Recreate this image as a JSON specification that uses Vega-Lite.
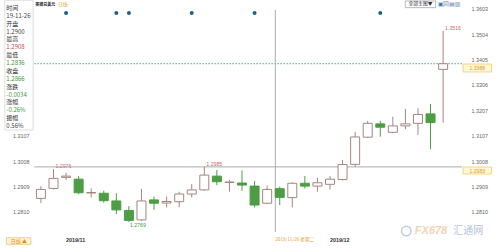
{
  "$schema": "https://vega.github.io/schema/vega-lite/v6.json",
  "width": 467,
  "height": 232,
  "autosize": {"type": "none"},
  "padding": {"left": 0, "top": 0, "right": 33, "bottom": 16},
  "background": "#ffffff",
  "config": {"view": {"stroke": null}},
  "datasets": {
    "candles": [
      {"i": 0, "d": "2019-10-30", "o": 1.2862, "h": 1.2910, "l": 1.2844, "c": 1.2897},
      {"i": 1, "d": "2019-10-31", "o": 1.2901, "h": 1.2976, "l": 1.2897, "c": 1.2940},
      {"i": 2, "d": "2019-11-01", "o": 1.2944, "h": 1.2962, "l": 1.2934, "c": 1.2949},
      {"i": 3, "d": "2019-11-04", "o": 1.2937, "h": 1.2949, "l": 1.2878, "c": 1.2884},
      {"i": 4, "d": "2019-11-05", "o": 1.2883, "h": 1.2901, "l": 1.2865, "c": 1.2885},
      {"i": 5, "d": "2019-11-06", "o": 1.2882, "h": 1.2892, "l": 1.2845, "c": 1.2853},
      {"i": 6, "d": "2019-11-07", "o": 1.2852, "h": 1.2882, "l": 1.2801, "c": 1.2817},
      {"i": 7, "d": "2019-11-08", "o": 1.2815, "h": 1.2832, "l": 1.2769, "c": 1.2776},
      {"i": 8, "d": "2019-11-11", "o": 1.2778, "h": 1.2899, "l": 1.2774, "c": 1.2852},
      {"i": 9, "d": "2019-11-12", "o": 1.2856, "h": 1.2869, "l": 1.2817, "c": 1.2843},
      {"i": 10, "d": "2019-11-13", "o": 1.2844, "h": 1.2869, "l": 1.2827, "c": 1.2850},
      {"i": 11, "d": "2019-11-14", "o": 1.2849, "h": 1.2888, "l": 1.2827, "c": 1.2879},
      {"i": 12, "d": "2019-11-15", "o": 1.2879, "h": 1.2918, "l": 1.2866, "c": 1.2895},
      {"i": 13, "d": "2019-11-18", "o": 1.2895, "h": 1.2985, "l": 1.2892, "c": 1.2953},
      {"i": 14, "d": "2019-11-19", "o": 1.2949, "h": 1.2973, "l": 1.2914, "c": 1.2927},
      {"i": 15, "d": "2019-11-20", "o": 1.2924, "h": 1.2934, "l": 1.2888, "c": 1.2926},
      {"i": 16, "d": "2019-11-21", "o": 1.2922, "h": 1.2971, "l": 1.2891, "c": 1.2914},
      {"i": 17, "d": "2019-11-22", "o": 1.2910, "h": 1.2930, "l": 1.2827, "c": 1.2836},
      {"i": 18, "d": "2019-11-25", "o": 1.2843, "h": 1.2912, "l": 1.2840, "c": 1.2897},
      {"i": 19, "d": "2019-11-26", "o": 1.2900, "h": 1.2908, "l": 1.2836, "c": 1.2866},
      {"i": 20, "d": "2019-11-27", "o": 1.2865, "h": 1.2925, "l": 1.2827, "c": 1.2921},
      {"i": 21, "d": "2019-11-28", "o": 1.2921, "h": 1.2949, "l": 1.2901, "c": 1.2910},
      {"i": 22, "d": "2019-11-29", "o": 1.2910, "h": 1.2943, "l": 1.2888, "c": 1.2923},
      {"i": 23, "d": "2019-12-02", "o": 1.2917, "h": 1.2949, "l": 1.2897, "c": 1.2937},
      {"i": 24, "d": "2019-12-03", "o": 1.2936, "h": 1.3012, "l": 1.2932, "c": 1.2994},
      {"i": 25, "d": "2019-12-04", "o": 1.2995, "h": 1.3121, "l": 1.2985, "c": 1.3102},
      {"i": 26, "d": "2019-12-05", "o": 1.3101, "h": 1.3165, "l": 1.3098, "c": 1.3155},
      {"i": 27, "d": "2019-12-06", "o": 1.3153, "h": 1.3165, "l": 1.3103, "c": 1.3140},
      {"i": 28, "d": "2019-12-09", "o": 1.3120, "h": 1.3181, "l": 1.3116, "c": 1.3145},
      {"i": 29, "d": "2019-12-10", "o": 1.3145, "h": 1.3211, "l": 1.3132, "c": 1.3153},
      {"i": 30, "d": "2019-12-11", "o": 1.3155, "h": 1.3214, "l": 1.3110, "c": 1.3190},
      {"i": 31, "d": "2019-12-12", "o": 1.3192, "h": 1.3231, "l": 1.3054, "c": 1.3158},
      {"i": 32, "d": "2019-12-13", "o": 1.3366, "h": 1.3516, "l": 1.3158, "c": 1.3388}
    ],
    "months": [
      {"i": 2, "t": "2019/11"},
      {"i": 23, "t": "2019/12"}
    ],
    "info": [
      {"row": 0, "t": "时间", "k": "l"},
      {"row": 1, "t": "19-11-26", "k": "n"},
      {"row": 2, "t": "开盘", "k": "l"},
      {"row": 3, "t": "1.2900", "k": "n"},
      {"row": 4, "t": "最高", "k": "l"},
      {"row": 5, "t": "1.2908", "k": "u"},
      {"row": 6, "t": "最低", "k": "l"},
      {"row": 7, "t": "1.2836", "k": "d"},
      {"row": 8, "t": "收盘", "k": "l"},
      {"row": 9, "t": "1.2866", "k": "d"},
      {"row": 10, "t": "涨跌", "k": "l"},
      {"row": 11, "t": "-0.0034", "k": "d"},
      {"row": 12, "t": "涨幅", "k": "l"},
      {"row": 13, "t": "-0.26%", "k": "d"},
      {"row": 14, "t": "振幅", "k": "l"},
      {"row": 15, "t": "0.56%", "k": "n"}
    ],
    "events": [{"i": 2}, {"i": 6}, {"i": 7}, {"i": 12}, {"i": 17}, {"i": 27}],
    "highs": [
      {"i": 1, "v": 1.2976, "t": "1.2976"},
      {"i": 13, "v": 1.2985, "t": "1.2985"},
      {"i": 32, "v": 1.3516, "t": "1.3516"}
    ],
    "lows": [{"i": 7, "v": 1.2769, "t": "1.2769"}]
  },
  "layer": [
    {
      "layer": [
        {
          "data": {"values": [{}]},
          "mark": {"type": "rect", "fill": "#ffffff", "stroke": "#d6d6d6", "strokeWidth": 0.8},
          "encoding": {
            "x": {"datum": -2.87, "type": "quantitative", "scale": {"domain": [-2.858, 33.503], "nice": false, "zero": false}, "axis": null},
            "x2": {"datum": -0.62},
            "y": {"datum": 1.3636, "type": "quantitative", "scale": {"domain": [1.27307, 1.36369], "nice": false, "zero": false}, "axis": null},
            "y2": {"datum": 1.3129}
          }
        },
        {
          "data": {"values": [{}]},
          "mark": {"type": "rule", "stroke": "#3fa59e", "strokeWidth": 1, "strokeDash": [1.5, 1.5]},
          "encoding": {
            "x": {"datum": -0.52, "type": "quantitative", "axis": null},
            "x2": {"datum": 33.503},
            "y": {"datum": 1.3388, "type": "quantitative", "axis": null}
          }
        },
        {
          "data": {"values": [{}]},
          "mark": {"type": "rule", "stroke": "#a3a3a3", "strokeWidth": 0.9},
          "encoding": {
            "x": {"datum": -0.52, "type": "quantitative", "axis": null},
            "x2": {"datum": 33.503},
            "y": {"datum": 1.2985, "type": "quantitative", "axis": null}
          }
        },
        {
          "data": {"values": [{}]},
          "mark": {"type": "rule", "stroke": "#a3a3a3", "strokeWidth": 0.9},
          "encoding": {
            "x": {"datum": 18.65, "type": "quantitative", "axis": null},
            "y": {"datum": 1.3598, "type": "quantitative", "axis": null},
            "y2": {"datum": 1.27307}
          }
        },
        {
          "data": {"name": "candles"},
          "mark": {"type": "rule", "strokeWidth": 1},
          "encoding": {
            "x": {"field": "i", "type": "quantitative", "axis": null},
            "y": {
              "field": "l", "type": "quantitative",
              "axis": {
                "orient": "right", "title": null, "values": [1.281, 1.2909, 1.3008, 1.3107, 1.3207, 1.3306, 1.3405, 1.3504, 1.3603],
                "format": ".4f", "ticks": false, "tickSize": 0, "domain": false, "grid": false,
                "labelPadding": 4, "labelFontSize": 5.4, "labelFont": "Liberation Sans", "labelColor": "#666666", "labelOverlap": false
              }
            },
            "y2": {"field": "h"},
            "stroke": {"condition": {"test": "datum.c >= datum.o", "value": "#a4857f"}, "value": "#4c9d44"}
          }
        },
        {
          "data": {"name": "candles"},
          "mark": {"type": "bar", "size": 9, "strokeWidth": 1},
          "encoding": {
            "x": {"field": "i", "type": "quantitative", "axis": null},
            "y": {
              "field": "o", "type": "quantitative",
              "axis": {
                "orient": "left", "title": null, "values": [1.281, 1.2909, 1.3008, 1.3107], "offset": -30,
                "format": ".4f", "ticks": false, "tickSize": 0, "domain": false, "grid": false,
                "labelPadding": 1, "labelFontSize": 5.4, "labelFont": "Liberation Sans", "labelColor": "#666666", "labelOverlap": false
              }
            },
            "y2": {"field": "c"},
            "fill": {"condition": {"test": "datum.c >= datum.o", "value": "#ffffff"}, "value": "#4c9d44"},
            "stroke": {"condition": {"test": "datum.c >= datum.o", "value": "#a4857f"}, "value": "#4c9d44"}
          }
        },
        {
          "data": {"name": "months"},
          "mark": {"type": "text", "align": "left", "baseline": "middle", "fontSize": 5.4, "fontWeight": "bold", "font": "Liberation Sans", "fill": "#333333"},
          "encoding": {
            "x": {"field": "i", "type": "quantitative", "axis": null},
            "y": {"datum": 1.26994, "type": "quantitative", "axis": null},
            "text": {"field": "t"}
          }
        },
        {
          "data": {"name": "highs"},
          "mark": {"type": "text", "align": "left", "baseline": "bottom", "dx": 2, "dy": 0, "fontSize": 5.2, "font": "Liberation Sans", "fill": "#c0706a"},
          "encoding": {
            "x": {"field": "i", "type": "quantitative", "axis": null},
            "y": {"field": "v", "type": "quantitative", "axis": null},
            "text": {"field": "t"}
          }
        },
        {
          "data": {"name": "lows"},
          "mark": {"type": "text", "align": "left", "baseline": "top", "dx": 1, "dy": 1, "fontSize": 5.2, "font": "Liberation Sans", "fill": "#3c9a3c"},
          "encoding": {
            "x": {"field": "i", "type": "quantitative", "axis": null},
            "y": {"field": "v", "type": "quantitative", "axis": null},
            "text": {"field": "t"}
          }
        },
        {
          "data": {"name": "events"},
          "mark": {"type": "point", "filled": true, "size": 16, "color": "#1f5f86", "opacity": 1},
          "encoding": {
            "x": {"field": "i", "type": "quantitative", "axis": null},
            "y": {"datum": 1.3586, "type": "quantitative", "axis": null}
          }
        },
        {
          "data": {"values": [{"t": "英镑兑美元"}]},
          "mark": {"type": "text", "align": "left", "baseline": "middle", "fontSize": 4, "fontWeight": "bold", "font": "Noto Sans CJK SC", "fill": "#222222"},
          "encoding": {
            "x": {"datum": -0.45, "type": "quantitative", "axis": null},
            "y": {"datum": 1.3619, "type": "quantitative", "axis": null},
            "text": {"field": "t"}
          }
        },
        {
          "data": {"values": [{"t": "-日线-"}]},
          "mark": {"type": "text", "align": "left", "baseline": "middle", "fontSize": 4.8, "font": "Noto Sans CJK SC", "fill": "#e8a33c"},
          "encoding": {
            "x": {"datum": 1.22, "type": "quantitative", "axis": null},
            "y": {"datum": 1.3619, "type": "quantitative", "axis": null},
            "text": {"field": "t"}
          }
        },
        {
          "data": {"values": [{}]},
          "mark": {"type": "rect", "fill": "#ffffff", "stroke": "#9a9a9a", "strokeWidth": 0.7},
          "encoding": {
            "x": {"datum": 28.99, "type": "quantitative", "axis": null},
            "x2": {"datum": 31.41},
            "y": {"datum": 1.3633, "type": "quantitative", "axis": null},
            "y2": {"datum": 1.3607}
          }
        },
        {
          "data": {"values": [{"t": "全部主图▼"}]},
          "mark": {"type": "text", "align": "center", "baseline": "middle", "fontSize": 4.8, "font": "Noto Sans CJK SC", "fill": "#333333"},
          "encoding": {
            "x": {"datum": 30.2, "type": "quantitative", "axis": null},
            "y": {"datum": 1.3620, "type": "quantitative", "axis": null},
            "text": {"field": "t"}
          }
        },
        {
          "data": {"values": [{"t": "▣"}]},
          "mark": {"type": "text", "align": "left", "baseline": "middle", "fontSize": 6, "font": "DejaVu Sans", "fill": "#2f7dc4"},
          "encoding": {
            "x": {"datum": 31.58, "type": "quantitative", "axis": null},
            "y": {"datum": 1.3620, "type": "quantitative", "axis": null},
            "text": {"field": "t"}
          }
        },
        {
          "data": {"values": [{"t": "回▤▥"}]},
          "mark": {"type": "text", "align": "left", "baseline": "middle", "fontSize": 6, "font": "DejaVu Sans", "fill": "#5f7f9f"},
          "encoding": {
            "x": {"datum": 32.0, "type": "quantitative", "axis": null},
            "y": {"datum": 1.3620, "type": "quantitative", "axis": null},
            "text": {"field": "t"}
          }
        },
        {
          "data": {"values": [{}]},
          "mark": {"type": "rect", "fill": "#fff8d8", "stroke": "#f1c452", "strokeWidth": 0.7},
          "encoding": {
            "x": {"datum": 33.59, "type": "quantitative", "axis": null},
            "x2": {"datum": 35.85},
            "y": {"datum": 1.33869, "type": "quantitative", "axis": null},
            "y2": {"datum": 1.33557}
          }
        },
        {
          "data": {"values": [{"t": "1.3388"}]},
          "mark": {"type": "text", "align": "center", "baseline": "middle", "fontSize": 5.1, "font": "Liberation Sans", "fill": "#e09a1e"},
          "encoding": {
            "x": {"datum": 34.72, "type": "quantitative", "axis": null},
            "y": {"datum": 1.33700, "type": "quantitative", "axis": null},
            "text": {"field": "t"}
          }
        },
        {
          "data": {"values": [{}]},
          "mark": {"type": "rect", "fill": "#fff8d8", "stroke": "#f1c452", "strokeWidth": 0.7},
          "encoding": {
            "x": {"datum": 33.59, "type": "quantitative", "axis": null},
            "x2": {"datum": 35.85},
            "y": {"datum": 1.29846, "type": "quantitative", "axis": null},
            "y2": {"datum": 1.29572}
          }
        },
        {
          "data": {"values": [{"t": "1.2983"}]},
          "mark": {"type": "text", "align": "center", "baseline": "middle", "fontSize": 5.1, "font": "Liberation Sans", "fill": "#e09a1e"},
          "encoding": {
            "x": {"datum": 34.72, "type": "quantitative", "axis": null},
            "y": {"datum": 1.29709, "type": "quantitative", "axis": null},
            "text": {"field": "t"}
          }
        },
        {
          "data": {"values": [{"t": "2019/11/26 星期二"}]},
          "mark": {"type": "text", "align": "left", "baseline": "middle", "fontSize": 4.6, "font": "Noto Sans CJK SC", "fill": "#e69a2e"},
          "encoding": {
            "x": {"datum": 18.65, "type": "quantitative", "axis": null},
            "y": {"datum": 1.26994, "type": "quantitative", "axis": null},
            "text": {"field": "t"}
          }
        },
        {
          "data": {"values": [{}]},
          "mark": {"type": "rect", "fill": "#fff4da", "stroke": "#f0b860", "strokeWidth": 0.7},
          "encoding": {
            "x": {"datum": -2.75, "type": "quantitative", "axis": null},
            "x2": {"datum": -0.8},
            "y": {"datum": 1.27084, "type": "quantitative", "axis": null},
            "y2": {"datum": 1.26826}
          }
        },
        {
          "data": {"values": [{"t": "日线 ▲"}]},
          "mark": {"type": "text", "align": "center", "baseline": "middle", "fontSize": 5, "font": "Noto Sans CJK SC", "fill": "#e88a1a"},
          "encoding": {
            "x": {"datum": -1.75, "type": "quantitative", "axis": null},
            "y": {"datum": 1.26955, "type": "quantitative", "axis": null},
            "text": {"field": "t"}
          }
        },
        {
          "data": {"values": [{}]},
          "mark": {"type": "point", "shape": "circle", "filled": false, "size": 90, "stroke": "#b8c8e0", "strokeWidth": 1.5, "opacity": 0.9},
          "encoding": {
            "x": {"datum": 29.07, "type": "quantitative", "axis": null},
            "y": {"datum": 1.27346, "type": "quantitative", "axis": null}
          }
        },
        {
          "data": {"values": [{"t": "FX678"}]},
          "mark": {"type": "text", "align": "left", "baseline": "middle", "fontSize": 11, "fontWeight": "bold", "fontStyle": "italic", "font": "Liberation Sans", "fill": "#f4d2b6"},
          "encoding": {
            "x": {"datum": 29.75, "type": "quantitative", "axis": null},
            "y": {"datum": 1.27346, "type": "quantitative", "axis": null},
            "text": {"field": "t"}
          }
        },
        {
          "data": {"values": [{"t": "汇通网"}]},
          "mark": {"type": "text", "align": "left", "baseline": "middle", "fontSize": 10, "font": "Noto Sans CJK SC", "fill": "#b4c3dc"},
          "encoding": {
            "x": {"datum": 32.8, "type": "quantitative", "axis": null},
            "y": {"datum": 1.27346, "type": "quantitative", "axis": null},
            "text": {"field": "t"}
          }
        }
      ],
      "resolve": {"axis": {"y": "independent"}}
    },
    {
      "data": {"name": "info"},
      "mark": {"type": "text", "align": "left", "baseline": "middle", "fontSize": 6, "font": "Noto Sans CJK SC"},
      "encoding": {
        "x": {"datum": -2.75, "type": "quantitative", "axis": null},
        "y": {"field": "row", "type": "ordinal", "scale": {"type": "point", "range": [8, 126], "padding": 0}, "axis": null},
        "text": {"field": "t"},
        "color": {"field": "k", "type": "nominal", "scale": {"domain": ["l", "n", "u", "d"], "range": ["#333333", "#444444", "#c0504d", "#3c9a3c"]}, "legend": null}
      }
    }
  ],
  "resolve": {"scale": {"y": "independent"}}
}
